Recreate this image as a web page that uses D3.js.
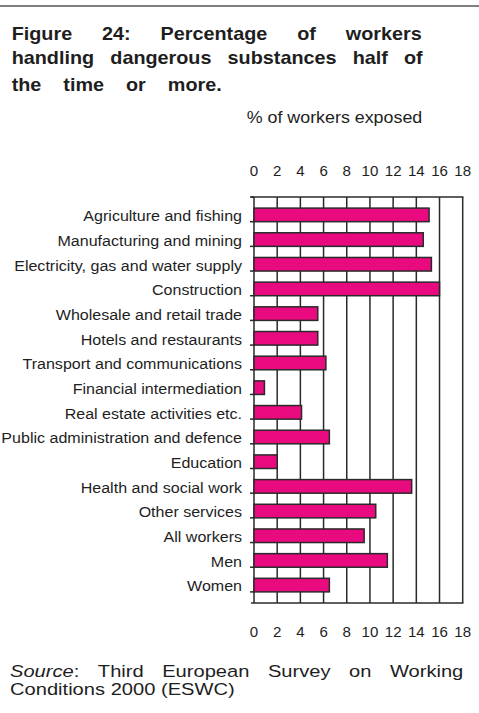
<!DOCTYPE html>
<html>
<head>
<meta charset="utf-8">
<script src="https://cdn.jsdelivr.net/npm/d3@7"></script>
<style>
  body { margin: 0; background: #fff; }
  svg { display: block; font-family: "Liberation Sans", Arial, sans-serif; }
  text { fill: #1e1e1e; }
</style>
</head>
<body>
<div id="chart"></div>
<script>
// chart data
const categories = [
    "Agriculture and fishing",
    "Manufacturing and mining",
    "Electricity, gas and water supply",
    "Construction",
    "Wholesale and retail trade",
    "Hotels and restaurants",
    "Transport and communications",
    "Financial intermediation",
    "Real estate activities etc.",
    "Public administration and defence",
    "Education",
    "Health and social work",
    "Other services",
    "All workers",
    "Men",
    "Women"
];
const values = [15.1, 14.6, 15.3, 16.0, 5.5, 5.5, 6.2, 0.9, 4.1, 6.5, 2.0, 13.6, 10.5, 9.5, 11.5, 6.5];
const tickValues = [0, 2, 4, 6, 8, 10, 12, 14, 16, 18];

const titleLines = [
    ["Figure", "24:", "Percentage", "of", "workers"],
    ["handling", "dangerous", "substances", "half", "of"],
    ["the", "time", "or", "more."]
];
const axisTitle = "% of workers exposed";
const sourceLine1 = ["Third", "European", "Survey", "on", "Working"];
const sourceLine2 = "Conditions 2000 (ESWC)";

const width = 479, height = 713;

const svg = d3.select("#chart")
    .append("svg")
    .attr("width", width)
    .attr("height", height);

// horizontally stretched text, the scan is a bit wider than it is tall
const addText = (x, y, str, size, opts = {}) => {
    const sx = opts.sx || 1;
    return svg.append("text")
        .attr("transform", `translate(${x},${y}) scale(${sx},1)`)
        .attr("text-anchor", opts.anchor || "start")
        .style("font-size", size + "px")
        .style("font-weight", opts.weight || "normal")
        .text(str);
};

// spread words evenly between x0 and x1
const justify = (words, x0, x1, y, size, opts = {}) => {
    const sx = opts.sx || 1;
    const nodes = words.map(w => addText(0, y, w, size, opts));
    const widths = nodes.map(n => n.node().getComputedTextLength() * sx);
    const gap = (x1 - x0 - d3.sum(widths)) / (words.length - 1);
    let x = x0;
    nodes.forEach((n, i) => {
        n.attr("transform", `translate(${x},${y}) scale(${sx},1)`);
        x += widths[i] + gap;
    });
};

// rule at the top of the page
svg.append("line")
    .attr("x1", 0).attr("x2", width)
    .attr("y1", 6).attr("y2", 6)
    .attr("stroke", "#555")
    .attr("stroke-width", 1.5);

// title
justify(titleLines[0], 11.7, 421.7, 39.5, 18, { weight: "bold", sx: 1.1 });
justify(titleLines[1], 11.7, 422.7, 63.5, 18, { weight: "bold", sx: 1.1 });
justify(titleLines[2], 11.7, 221.7, 90.7, 18, { weight: "bold", sx: 1.1 });

addText(246.7, 122.7, axisTitle, 17, { sx: 1.05 });

// scales
const margin = { top: 197, left: 254, right: 16.3, bottom: 110 };
const xScale = d3.scaleLinear()
    .domain([0, 18])
    .range([margin.left, width - margin.right]);

const yScale = d3.scaleBand()
    .domain(categories)
    .range([margin.top, height - margin.bottom])
    .padding(0.45);

const plotTop = margin.top, plotBottom = height - margin.bottom;
const lineColor = "#2a2a2a";

// vertical grid lines
svg.append("g")
    .selectAll("line")
    .data(tickValues)
    .join("line")
    .attr("x1", d => xScale(d)).attr("x2", d => xScale(d))
    .attr("y1", plotTop).attr("y2", plotBottom)
    .attr("stroke", lineColor)
    .attr("stroke-width", 1.5);

// top border and bottom axis line
[plotTop, plotBottom].forEach(y => {
    svg.append("line")
        .attr("x1", xScale(0) - 3).attr("x2", xScale(18) + 0.75)
        .attr("y1", y).attr("y2", y)
        .attr("stroke", lineColor)
        .attr("stroke-width", 1.5);
});

// small ticks on the left axis between categories
const step = yScale.step();
svg.append("g")
    .selectAll("line")
    .data(d3.range(categories.length + 1))
    .join("line")
    .attr("x1", xScale(0) - 4).attr("x2", xScale(0))
    .attr("y1", i => plotTop + i * step).attr("y2", i => plotTop + i * step)
    .attr("stroke", lineColor)
    .attr("stroke-width", 1.5);

// bars
svg.append("g")
    .selectAll("rect")
    .data(values)
    .join("rect")
    .attr("x", xScale(0))
    .attr("y", (d, i) => yScale(categories[i]))
    .attr("width", d => xScale(d) - xScale(0))
    .attr("height", yScale.bandwidth())
    .attr("fill", "#ea0a80")
    .attr("stroke", lineColor)
    .attr("stroke-width", 1.5);

// category labels
categories.forEach(c => {
    addText(242, yScale(c) + yScale.bandwidth() / 2 + 6.3, c, 15, { anchor: "end", sx: 1.07 });
});

// tick labels, top and bottom
tickValues.forEach(t => {
    addText(xScale(t), 176, t, 14.5, { anchor: "middle", sx: 1.04 });
    addText(xScale(t), 636.7, t, 14.5, { anchor: "middle", sx: 1.04 });
});

// source note, first line justified
const srcSize = 16.5, srcSx = 1.22;
const src = svg.append("text")
    .style("font-size", srcSize + "px");
src.append("tspan").style("font-style", "italic").text("Source");
src.append("tspan").text(":");
const srcW = src.node().getComputedTextLength() * srcSx;
const restNodes = sourceLine1.map(w => addText(0, 677, w, srcSize, { sx: srcSx }));
const restW = restNodes.map(n => n.node().getComputedTextLength() * srcSx);
const srcGap = (463.3 - 10 - srcW - d3.sum(restW)) / sourceLine1.length;
src.attr("transform", `translate(10,677) scale(${srcSx},1)`);
let sxPos = 10 + srcW + srcGap;
restNodes.forEach((n, i) => {
    n.attr("transform", `translate(${sxPos},677) scale(${srcSx},1)`);
    sxPos += restW[i] + srcGap;
});
addText(10, 695, sourceLine2, srcSize, { sx: srcSx });
</script>
</body>
</html>
